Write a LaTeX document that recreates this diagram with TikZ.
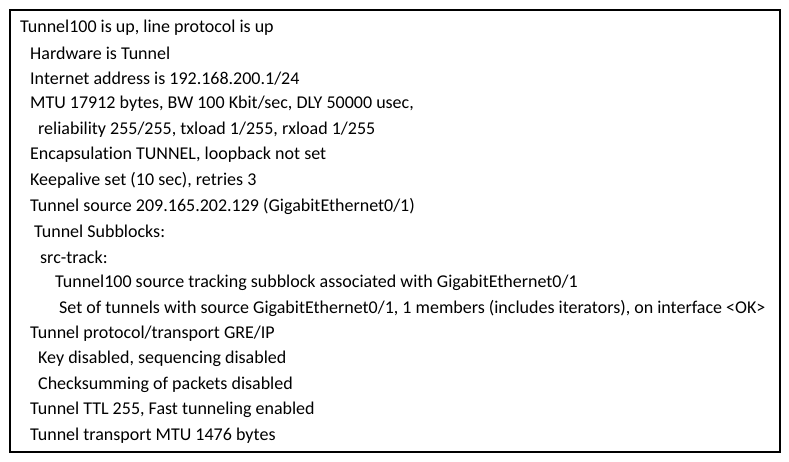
\documentclass[tikz,border=0pt]{standalone}
\usepackage{fontspec}
\setmainfont[Ligatures={NoCommon,NoRare}]{Carlito}
\begin{document}
\begin{tikzpicture}[x=1pt,y=-1pt,t/.style={anchor=west,inner sep=0pt,font=\fontsize{18}{21}\selectfont}]
\useasboundingbox (0,0) rectangle (789,461);
\draw[line width=1.8pt] (10,10) rectangle (780,452);
\node[t] (l1) at (20,27.5) {Tunnel100 is up, line protocol is up};
\node[t] (l2) at (30,53) {Hardware is Tunnel};
\node[t] (l3) at (30,78.5) {Internet address is 192.168.200.1/24};
\node[t] (l4) at (30,104) {MTU 17912 bytes, BW 100 Kbit/sec, DLY 50000 usec,};
\node[t] (l5) at (38,129.5) {reliability 255/255, txload 1/255, rxload 1/255};
\node[t] (l6) at (30,155) {Encapsulation TUNNEL, loopback not set};
\node[t] (l7) at (30,180.5) {Keepalive set (10 sec), retries 3};
\node[t] (l8) at (30,206) {Tunnel source 209.165.202.129 (GigabitEthernet0/1)};
\node[t] (l9) at (34,231.5) {Tunnel Subblocks:};
\node[t] (l10) at (40,257) {src-track:};
\node[t] (l11) at (55,282.5) {Tunnel100 source tracking subblock associated with GigabitEthernet0/1};
\node[t] (l12) at (59,308) {Set of tunnels with source GigabitEthernet0/1, 1 members (includes iterators), on interface <OK>};
\node[t] (l13) at (30,333.5) {Tunnel protocol/transport GRE/IP};
\node[t] (l14) at (38,359) {Key disabled, sequencing disabled};
\node[t] (l15) at (38,384.5) {Checksumming of packets disabled};
\node[t] (l16) at (30,410) {Tunnel TTL 255, Fast tunneling enabled};
\node[t] (l17) at (30,435.5) {Tunnel transport MTU 1476 bytes};
\end{tikzpicture}
\end{document}
